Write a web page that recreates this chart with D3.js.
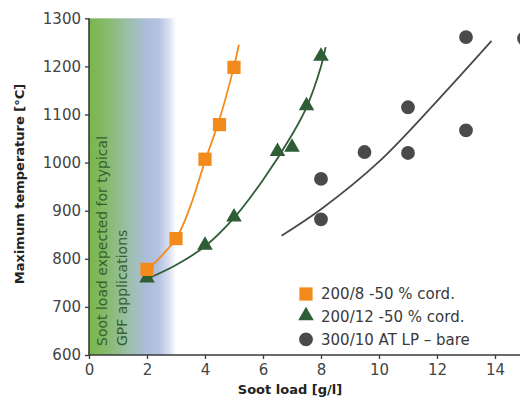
<!DOCTYPE html>
<html>
<head>
<meta charset="utf-8">
<script src="https://cdn.jsdelivr.net/npm/d3@7"></script>
<style>
  html, body { margin: 0; padding: 0; background: #fff; }
  svg { display: block; }
  text { font-family: "DejaVu Sans", sans-serif; }
</style>
</head>
<body>
<svg id="chart" width="520" height="405"></svg>
<script>
// Maximum temperature vs. soot load, three filter variants
const xTicks = [0, 2, 4, 6, 8, 10, 12, 14];
const yTicks = [600, 700, 800, 900, 1000, 1100, 1200, 1300];

// 200/8 -50 % cord.
const sq8X = [2, 3, 4, 4.5, 5];
const sq8Y = [778, 842, 1007, 1079, 1198];
const fit8X = [2, 3, 3.5, 4, 4.5, 5, 5.17];
const fit8Y = [776, 842, 910, 1003, 1090, 1200, 1245];

// 200/12 -50 % cord.
const tri12X = [2, 4, 5, 6.5, 7, 7.5, 8];
const tri12Y = [758, 826, 885, 1021, 1030, 1116, 1219];
const fit12X = [2, 3, 4, 5, 6, 7, 7.5, 8, 8.16];
const fit12Y = [758, 787, 826, 885, 964, 1058, 1115, 1200, 1240];

// 300/10 AT LP – bare
const circX = [8, 8, 9.5, 11, 11, 13, 13, 15];
const circY = [882, 966, 1022, 1020, 1115, 1067, 1261, 1258];
const fitBareX = [6.64, 8, 10, 12, 13.88];
const fitBareY = [848, 903, 1002, 1128, 1253];

// Soot load range expected for typical GPF applications
const bandRange = [0, 3];

const seriesNames = ["200/8 -50 % cord.", "200/12 -50 % cord.", "300/10 AT LP \u2013 bare"];
const colors = { orange: "#f38b1c", green: "#2f5d35", gray: "#4a4a4c" };

const svg = d3.select("#chart");
const x = d3.scaleLinear().domain([0, 15]).range([89, 524]);
const y = d3.scaleLinear().domain([600, 1300]).range([355, 18.3]);

// Gradient band
const defs = svg.append("defs");
const grad = defs.append("linearGradient").attr("id", "band")
  .attr("x1", "0%").attr("x2", "100%").attr("y1", "0%").attr("y2", "0%");
[[0, "#78b64b"], [0.2, "#87ba6b"], [0.45, "#9cbfa9"], [0.65, "#abbdd7"],
 [0.8, "#b4c2e1"], [0.92, "#d9e0f1"], [1, "#ffffff"]]
  .forEach(([o, c]) => grad.append("stop").attr("offset", o).attr("stop-color", c));

svg.append("rect")
  .attr("x", x(bandRange[0])).attr("y", y(1300))
  .attr("width", x(bandRange[1]) - x(bandRange[0]))
  .attr("height", y(600) - y(1300))
  .attr("fill", "url(#band)");

const bandText = svg.append("g").attr("fill", "#33622e").attr("font-size", 14);
bandText.append("text").attr("transform", "translate(106.5,346) rotate(-90)")
  .text("Soot load expected for typical");
bandText.append("text").attr("transform", "translate(126.5,346) rotate(-90)")
  .text("GPF applications");

// Axes
const axisColor = "#3a3a3a";
const xAxis = svg.append("g").attr("transform", `translate(0,${y(600)})`)
  .call(d3.axisBottom(x).tickValues(xTicks).tickSize(4).tickPadding(5).tickFormat(d3.format("d")));
const yAxis = svg.append("g").attr("transform", `translate(${x(0)},0)`)
  .call(d3.axisLeft(y).tickValues(yTicks).tickSize(4).tickPadding(4).tickFormat(d3.format("d")));
[xAxis, yAxis].forEach(g => {
  g.select(".domain").attr("stroke", axisColor).attr("stroke-width", 1.6);
  g.selectAll(".tick line").attr("stroke", axisColor).attr("stroke-width", 1.3);
  g.selectAll(".tick text").attr("fill", "#444").attr("font-size", 15)
    .attr("font-family", "DejaVu Sans, sans-serif");
});
yAxis.select(".domain").attr("d", `M0,${y(1300)}V${y(600)}`);
xAxis.select(".domain").attr("d", `M${x(0)},0H${x(15)}`);

// Axis titles
svg.append("text").attr("x", 290).attr("y", 394).attr("text-anchor", "middle")
  .attr("font-weight", "bold").attr("font-size", 13).attr("fill", "#222")
  .text("Soot load [g/l]");
svg.append("text").attr("transform", "translate(24,184) rotate(-90)")
  .attr("text-anchor", "middle").attr("font-weight", "bold").attr("font-size", 13)
  .attr("fill", "#222").text("Maximum temperature [°C]");

// Trend lines
const line = d3.line().x(d => x(d[0])).y(d => y(d[1])).curve(d3.curveCatmullRom.alpha(0.5));
const fits = [
  [d3.zip(fit8X, fit8Y), colors.orange],
  [d3.zip(fit12X, fit12Y), colors.green],
  [d3.zip(fitBareX, fitBareY), colors.gray]
];
fits.forEach(([pts, c]) => svg.append("path").datum(pts).attr("d", line)
  .attr("fill", "none").attr("stroke", c).attr("stroke-width", 1.8));

// Markers
const sqSym = d3.symbol().type(d3.symbolSquare).size(175);
const triSym = d3.symbol().type(d3.symbolTriangle).size(105);
const cirSym = d3.symbol().type(d3.symbolCircle).size(150);

svg.append("g").selectAll("path").data(d3.zip(tri12X, tri12Y)).join("path")
  .attr("transform", d => `translate(${x(d[0])},${y(d[1]) - 1})`)
  .attr("d", triSym).attr("fill", colors.green);
svg.append("g").selectAll("path").data(d3.zip(sq8X, sq8Y)).join("path")
  .attr("transform", d => `translate(${x(d[0])},${y(d[1])})`)
  .attr("d", sqSym).attr("fill", colors.orange);
svg.append("g").selectAll("path").data(d3.zip(circX, circY)).join("path")
  .attr("transform", d => `translate(${x(d[0])},${y(d[1])})`)
  .attr("d", cirSym).attr("fill", colors.gray);

// Legend
const legend = svg.append("g").attr("transform", "translate(306,294)");
const syms = [[sqSym, colors.orange], [triSym, colors.green], [cirSym, colors.gray]];
seriesNames.forEach((name, i) => {
  const row = legend.append("g").attr("transform", `translate(0,${i * 22.7})`);
  row.append("path").attr("d", syms[i][0]).attr("fill", syms[i][1])
    .attr("transform", i === 1 ? "translate(0,-1)" : null);
  row.append("text").attr("x", 15).attr("y", 5.3).attr("font-size", 15)
    .attr("fill", "#3a3a3a").text(name);
});
</script>
</body>
</html>
